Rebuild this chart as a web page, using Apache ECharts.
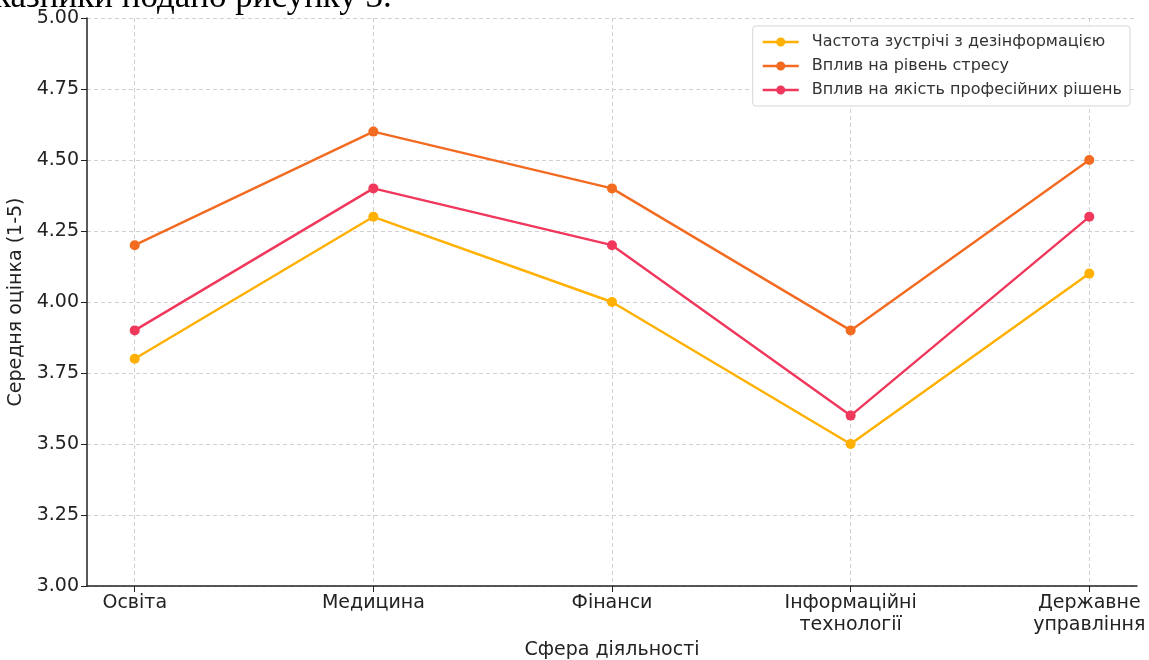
<!DOCTYPE html>
<html>
<head>
<meta charset="utf-8">
<script src="https://cdn.jsdelivr.net/npm/echarts@6/dist/echarts.min.js"></script>
<style>
  html, body { margin: 0; padding: 0; background: #fff; }
  #chart { width: 1149px; height: 660px; }
</style>
</head>
<body>
<div id="chart"></div>
<script>
// Data
const categories = ['Освіта', 'Медицина', 'Фінанси', 'Інформаційні\nтехнології', 'Державне\nуправління'];
const frequency = [3.8, 4.3, 4.0, 3.5, 4.1];
const stress = [4.2, 4.6, 4.4, 3.9, 4.5];
const quality = [3.9, 4.4, 4.2, 3.6, 4.3];
const seriesNames = [
    'Частота зустрічі з дезінформацією',
    'Вплив на рівень стресу',
    'Вплив на якість професійних рішень'
];
const colors = ['#FFB000', '#F26B21', '#F0375C'];

const font = '"DejaVu Sans", sans-serif';
const idx = categories.map((c, i) => i);

function toPoints(values) {
    return values.map((v, i) => [i, v]);
}

// legend icon: short line with a dot in the middle
const legendIcon = 'path://M0,3.8 L36,3.8 L36,6.2 L0,6.2 Z M22.5,5 A4.5,4.5 0 1 1 13.5,5 A4.5,4.5 0 1 1 22.5,5 Z';

const chart = echarts.init(document.getElementById('chart'));

const makeSeries = (name, values, color) => ({
    name: name,
    type: 'line',
    data: toPoints(values),
    symbol: 'circle',
    symbolSize: 10,
    lineStyle: { color: color, width: 2.4 },
    itemStyle: { color: color },
    emphasis: { disabled: true },
    z: 3
});

chart.setOption({
    animation: false,
    textStyle: { fontFamily: font },
    graphic: [{
        type: 'text',
        left: -6,
        top: -20,
        style: {
            text: 'казники подано рисунку 3.',
            font: '35px "Liberation Serif", serif',
            fill: '#000'
        }
    }],
    grid: { left: 87, right: 12, top: 18, bottom: 74, containLabel: false, outerBoundsMode: 'none' },
    legend: {
        right: 19,
        top: 26,
        orient: 'vertical',
        itemGap: 6,
        itemWidth: 36,
        itemHeight: 10,
        padding: [7, 8, 7, 10],
        backgroundColor: '#fff',
        borderColor: '#d6d6d6',
        borderWidth: 1,
        borderRadius: 3,
        icon: legendIcon,
        textStyle: { fontSize: 16, color: '#333', fontFamily: font, padding: [0, 0, 0, 8], lineHeight: 18 },
        data: seriesNames
    },
    xAxis: {
        type: 'value',
        min: -0.2,
        max: 4.2,
        name: 'Сфера діяльності',
        nameLocation: 'middle',
        nameGap: 53,
        nameTextStyle: { fontSize: 19, color: '#222', fontFamily: font },
        axisLine: { show: true, onZero: false, lineStyle: { color: '#222', width: 1.5 } },
        axisTick: { show: true, length: 6, customValues: idx, lineStyle: { color: '#222' } },
        axisLabel: {
            customValues: idx,
            fontSize: 19,
            color: '#222',
            margin: 6,
            lineHeight: 22,
            formatter: v => categories[Math.round(v)] || ''
        },
        splitLine: { show: true, lineStyle: { color: '#d0d0d0', type: [4, 3] } }
    },
    yAxis: {
        type: 'value',
        min: 3,
        max: 5,
        interval: 0.25,
        name: 'Середня оцінка (1-5)',
        nameLocation: 'middle',
        nameGap: 57,
        nameTextStyle: { fontSize: 19, color: '#222', fontFamily: font },
        axisLine: { show: true, onZero: false, lineStyle: { color: '#222', width: 1.5 } },
        axisTick: { show: true, length: 6, lineStyle: { color: '#222' } },
        axisLabel: {
            fontSize: 19,
            color: '#222',
            margin: 8,
            formatter: v => v.toFixed(2)
        },
        splitLine: { show: true, lineStyle: { color: '#d0d0d0', type: [4, 3] } }
    },
    series: [
        makeSeries(seriesNames[0], frequency, colors[0]),
        makeSeries(seriesNames[1], stress, colors[1]),
        makeSeries(seriesNames[2], quality, colors[2])
    ]
});
</script>
</body>
</html>
